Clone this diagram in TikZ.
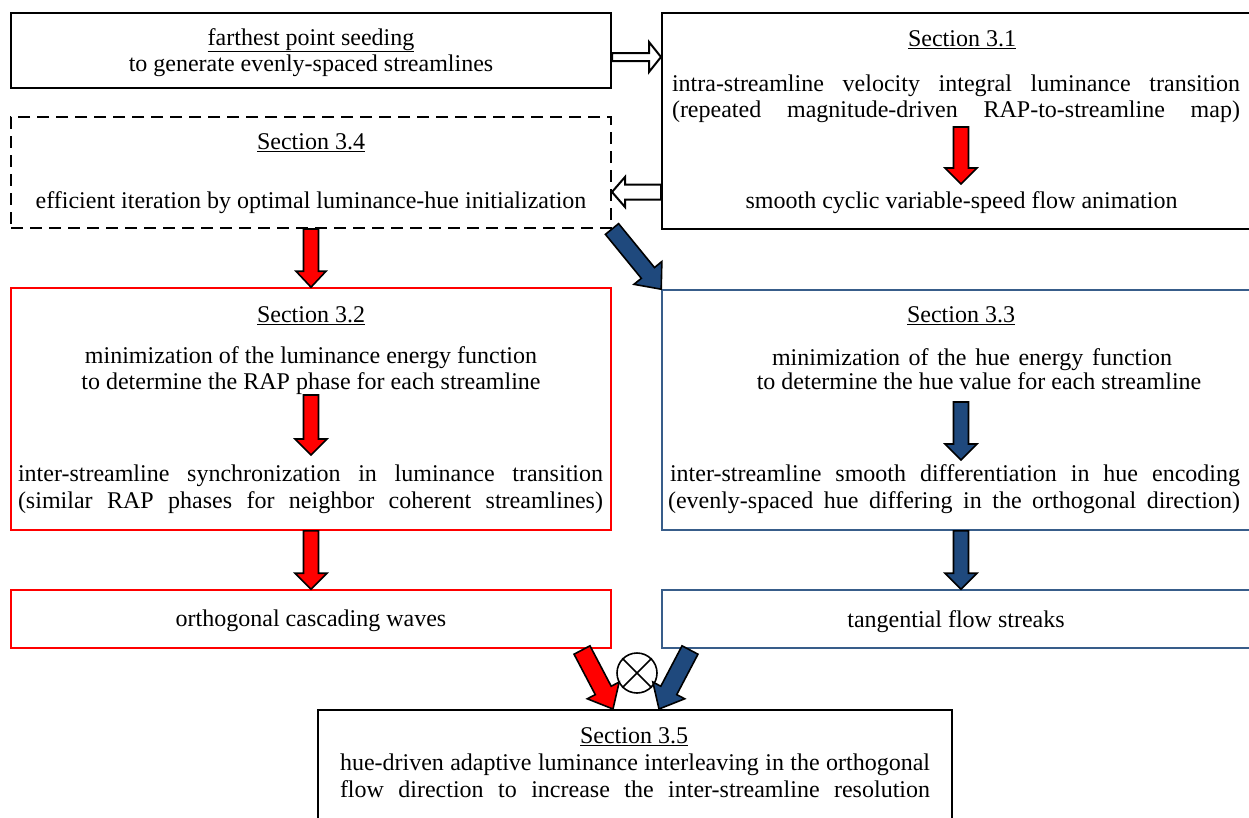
\documentclass[tikz,border=0pt]{standalone}
\usepackage{fontspec}
\setmainfont{Liberation Serif}
\usetikzlibrary{calc}
\definecolor{boxblue}{RGB}{56,93,138}
\definecolor{arrowblue}{RGB}{31,73,125}
\newcommand\fatarrow[6]{%
  \coordinate (fa-t) at (#2);
  \coordinate (fa-h) at (#3);
  \coordinate (fa-b) at ($(fa-h)!#6!(fa-t)$);
  \draw[#1] ($(fa-t)!#4!90:(fa-h)$) -- ($(fa-b)!#4!-90:(fa-t)$) -- ($(fa-b)!#5!-90:(fa-t)$) -- (fa-h) -- ($(fa-b)!#5!90:(fa-t)$) -- ($(fa-b)!#4!90:(fa-t)$) -- ($(fa-t)!#4!-90:(fa-h)$) -- cycle;
}
\newcommand\jl[2]{\makebox[#1pt][s]{#2}}
\tikzset{
  blackbox/.style={draw=black, line width=2pt, rectangle, inner sep=0pt},
  dashbox/.style={draw=black, line width=2pt, dash pattern=on 12pt off 7pt, rectangle, inner sep=0pt},
  redbox/.style={draw=red, line width=1.6pt, rectangle, inner sep=0pt},
  bluebox/.style={draw=boxblue, line width=1.6pt, rectangle, inner sep=0pt},
  txt/.style={anchor=base, inner sep=0pt, font=\fontsize{24}{26}\selectfont},
  hollow/.style={fill=white, draw=black, line width=2pt, line join=miter},
  redarrow/.style={fill=red, draw=black, line width=1.6pt, line join=miter},
  bluearrow/.style={fill=arrowblue, draw=black, line width=1.6pt, line join=miter},
}
\begin{document}
\begin{tikzpicture}[x=1pt, y=-1pt]
\useasboundingbox (0,0) rectangle (1249,817);
\clip (0,0) rectangle (1249,817);
\fill[white] (0,0) rectangle (1249,817);

% boxes
\node[blackbox, minimum width=600pt, minimum height=75pt] (A) at (311,50.5) {};
\node[blackbox, minimum width=598pt, minimum height=216pt] (B) at (961,121) {};
\node[dashbox, minimum width=600pt, minimum height=111pt] (C) at (311,172.5) {};
\node[redbox, minimum width=600pt, minimum height=242pt] (D) at (311,409) {};
\node[bluebox, minimum width=598pt, minimum height=240pt] (E) at (961,410) {};
\node[redbox, minimum width=600pt, minimum height=58pt] (F) at (311,619) {};
\node[bluebox, minimum width=598pt, minimum height=58pt] (G) at (961,619) {};
\node[blackbox, minimum width=634pt, minimum height=120pt] (H) at (635,770) {};

% texts
\node[txt] (a1) at (311,45) {\underline{farthest point seeding}};
\node[txt] (a2) at (311,71) {to generate evenly-spaced streamlines};

\node[txt] (b1) at (962,46) {\underline{Section 3.1}};
\node[txt] (b2) at (956,91) {\jl{568}{intra-streamline velocity integral luminance transition}};
\node[txt] (b3) at (956,117) {\jl{568}{(repeated magnitude-driven RAP-to-streamline map)}};
\node[txt] (b4) at (961.5,208) {smooth cyclic variable-speed flow animation};

\node[txt] (c1) at (311,149) {\underline{Section 3.4}};
\node[txt] (c2) at (311,208) {efficient iteration by optimal luminance-hue initialization};

\node[txt] (d1) at (311,322) {\underline{Section 3.2}};
\node[txt] (d2) at (311,363) {minimization of the luminance energy function};
\node[txt] (d3) at (311,389) {to determine the RAP phase for each streamline};
\node[txt] (d4) at (310.5,481) {\jl{585}{inter-streamline synchronization in luminance transition}};
\node[txt] (d5) at (310.5,508) {\jl{585}{(similar RAP phases for neighbor coherent streamlines)}};

\node[txt] (e1) at (961,322) {\underline{Section 3.3}};
\node[txt] (e2) at (972,365) {\jl{400}{minimization of the hue energy function}};
\node[txt] (e3) at (979,389) {to determine the hue value for each streamline};
\node[txt] (e4) at (955,481) {\jl{570}{inter-streamline smooth differentiation in hue encoding}};
\node[txt] (e5) at (954,508) {\jl{572}{(evenly-spaced hue differing in the orthogonal direction)}};

\node[txt] (f1) at (311,626) {orthogonal cascading waves};
\node[txt] (g1) at (956,627) {tangential flow streaks};

\node[txt] (h1) at (634,743) {\underline{Section 3.5}};
\node[txt] (h2) at (635,770) {\jl{590}{hue-driven adaptive luminance interleaving in the orthogonal}};
\node[txt] (h3) at (635,797) {\jl{590}{flow direction to increase the inter-streamline resolution}};

% internal arrow end points
\coordinate (bt) at (961,127);
\coordinate (bh) at (961,184);
\coordinate (dt) at (311,395);
\coordinate (dh) at (311,455);
\coordinate (et) at (961,402);
\coordinate (eh) at (961,460);
\coordinate (rt) at (582,650);
\coordinate (rh) at (613,709);
\coordinate (lt) at (690,650);
\coordinate (lh) at (659,709);

% arrows
\fatarrow{hollow}{$(A.east)+(0,6.5)$}{$(B.west |- A.east)+(0,6.5)$}{4pt}{15pt}{12pt}
\fatarrow{hollow}{$(B.west |- C.east)+(0,19.5)$}{$(C.east)+(0,19.5)$}{7.5pt}{15pt}{13pt}
\fatarrow{redarrow}{bt}{bh}{7.5pt}{16pt}{16pt}
\fatarrow{redarrow}{C.south}{D.north}{7.5pt}{15pt}{16pt}
\fatarrow{bluearrow}{C.south east}{E.north west}{8.5pt}{18pt}{21pt}
\fatarrow{redarrow}{dt}{dh}{7.5pt}{16pt}{16pt}
\fatarrow{bluearrow}{et}{eh}{7.5pt}{16pt}{16pt}
\fatarrow{redarrow}{D.south}{F.north}{7.5pt}{16pt}{16pt}
\fatarrow{bluearrow}{E.south}{G.north}{7.5pt}{16pt}{16pt}
\fatarrow{redarrow}{rt}{rh}{9pt}{18pt}{21pt}
\fatarrow{bluearrow}{lt}{lh}{9pt}{18pt}{21pt}

% otimes
\node[circle, draw=black, line width=1.6pt, minimum size=40pt, inner sep=0pt] (ot) at (637,673) {};
\draw[line width=1.6pt] (ot.north west) -- (ot.south east);
\draw[line width=1.6pt] (ot.north east) -- (ot.south west);
\end{tikzpicture}
\end{document}
